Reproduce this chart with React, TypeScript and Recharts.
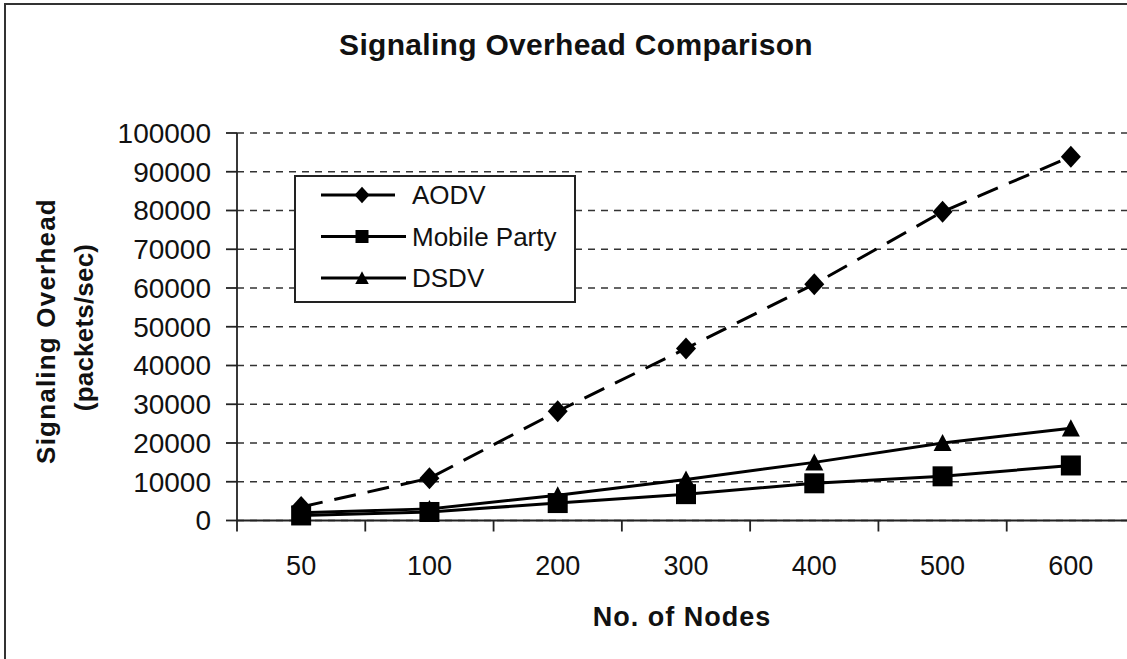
import React from 'react';
import { LineChart, Line, XAxis, YAxis, CartesianGrid, Legend } from 'recharts';

const categories = ['50', '100', '200', '300', '400', '500', '600'];
const aodv = [3500, 10900, 28200, 44400, 61000, 79700, 93900];
const mobileParty = [1300, 2200, 4500, 6800, 9600, 11400, 14200];
const dsdv = [2000, 3000, 6500, 10600, 15000, 20000, 23800];
const yTicks = [0, 10000, 20000, 30000, 40000, 50000, 60000, 70000, 80000, 90000, 100000];
const boundaryTicks = [0, 1, 2, 3, 4, 5, 6, 7];
const centerTicks = categories.map((_, i) => i + 0.5);

const data = categories.map((c, i) => ({
  pos: i + 0.5,
  label: c,
  AODV: aodv[i],
  'Mobile Party': mobileParty[i],
  DSDV: dsdv[i],
}));

const FONT = '"Liberation Sans", Arial, sans-serif';

const Diamond = (props: any) => {
  const { cx, cy, s = 1 } = props;
  if (cx == null || cy == null) return null;
  const w = 10 * s, h = 11 * s;
  return <polygon points={`${cx},${cy - h} ${cx + w},${cy} ${cx},${cy + h} ${cx - w},${cy}`} fill="#000" />;
};
const Square = (props: any) => {
  const { cx, cy, s = 1 } = props;
  if (cx == null || cy == null) return null;
  const r = 10 * s;
  return <rect x={cx - r} y={cy - r} width={2 * r} height={2 * r} fill="#000" />;
};
const Triangle = (props: any) => {
  const { cx, cy, s = 1 } = props;
  if (cx == null || cy == null) return null;
  const w = 9 * s, h = 9 * s;
  return <polygon points={`${cx},${cy - h} ${cx + w},${cy + h * 0.9} ${cx - w},${cy + h * 0.9}`} fill="#000" />;
};

const legendItems = [
  { name: 'AODV', Marker: Diamond, s: 0.75, x2: 74 },
  { name: 'Mobile Party', Marker: Square, s: 0.65, x2: 85 },
  { name: 'DSDV', Marker: Triangle, s: 0.75, x2: 85 },
];

const LegendBox = () => (
  <svg width={282} height={128} style={{ display: 'block' }}>
    <rect x={1} y={1} width={280} height={126} fill="#fff" stroke="#222" strokeWidth={2} />
    {legendItems.map((it, i) => {
      const cy = 20 + i * 41.5;
      const M = it.Marker;
      return (
        <g key={it.name}>
          <line x1={27} y1={cy} x2={27 + it.x2} y2={cy} stroke="#000" strokeWidth={3} />
          <M cx={68} cy={cy} s={it.s} />
          <text x={118} y={cy + 9} fontSize={26} fontFamily={FONT} fill="#111">{it.name}</text>
        </g>
      );
    })}
  </svg>
);

const EmptyTick = () => <g />;

export default function App() {
  return (
    <div style={{ position: 'absolute', left: 0, top: 0, width: 1127, height: 659, overflow: 'hidden', background: '#fff' }}>
      <div style={{ position: 'absolute', left: 4, top: 3, width: 1300, height: 900, border: '2px solid #333', boxSizing: 'border-box' }} />
      <div style={{ position: 'absolute', left: 0, top: 0 }}>
        <LineChart width={1140} height={659} data={data} margin={{ top: 133, right: 5, left: 0, bottom: 0 }}>
          <CartesianGrid horizontal vertical={false} stroke="#333" strokeWidth={1.3} strokeDasharray="7 6" xAxisId="b" />
          <XAxis
            xAxisId="b"
            dataKey="pos"
            type="number"
            domain={[0, 7]}
            ticks={boundaryTicks}
            tick={<EmptyTick />}
            tickFormatter={() => ''}
            tickSize={11}
            height={12}
            interval={0}
            axisLine={{ stroke: '#222', strokeWidth: 1.8 }}
            tickLine={{ stroke: '#222', strokeWidth: 1.8 }}
          />
          <XAxis
            xAxisId="lbl"
            dataKey="pos"
            type="number"
            domain={[0, 7]}
            ticks={centerTicks}
            tickFormatter={(v: number) => categories[Math.floor(v)]}
            axisLine={false}
            tickLine={false}
            tickSize={0}
            tickMargin={23.5}
            height={126.5}
            tick={{ fontSize: 27, fill: '#111', fontFamily: FONT }}
            interval={0}
          />
          <YAxis
            type="number"
            domain={[0, 100000]}
            ticks={yTicks}
            width={237}
            tickSize={11}
            tickMargin={15}
            interval={0}
            axisLine={{ stroke: '#222', strokeWidth: 1.8 }}
            tickLine={{ stroke: '#222', strokeWidth: 1.8 }}
            tick={{ fontSize: 28, fill: '#111', fontFamily: FONT }}
          />
          <Legend
            layout="vertical"
            align="center"
            verticalAlign="middle"
            wrapperStyle={{ left: 294, top: 175, width: 282, height: 128 }}
            content={() => <LegendBox />}
          />
          <Line xAxisId="b" type="linear" dataKey="DSDV" stroke="#000" strokeWidth={3} dot={<Triangle />} isAnimationActive={false} />
          <Line xAxisId="b" type="linear" dataKey="Mobile Party" stroke="#000" strokeWidth={3} dot={<Square />} isAnimationActive={false} />
          <Line xAxisId="b" type="linear" dataKey="AODV" stroke="#000" strokeWidth={3} strokeDasharray="22 12" dot={<Diamond />} isAnimationActive={false} />
        </LineChart>
      </div>
      <svg width={1127} height={659} style={{ position: 'absolute', left: 0, top: 0, pointerEvents: 'none' }}>
        <text x={576} y={55} textAnchor="middle" fontSize={30} fontWeight="bold" fontFamily={FONT} fill="#111" letterSpacing={0.3}>
          Signaling Overhead Comparison
        </text>
        <text x={682} y={626} textAnchor="middle" fontSize={27} fontWeight="bold" fontFamily={FONT} fill="#111" letterSpacing={1}>
          No. of Nodes
        </text>
        <text x={55} y={331} transform="rotate(-90, 55, 331)" textAnchor="middle" fontSize={26} fontWeight="bold" fontFamily={FONT} fill="#111" letterSpacing={1.2}>
          Signaling Overhead
        </text>
        <text x={93} y={327.5} transform="rotate(-90, 93, 327.5)" textAnchor="middle" fontSize={26} fontWeight="bold" fontFamily={FONT} fill="#111" letterSpacing={0.2}>
          (packets/sec)
        </text>
      </svg>
    </div>
  );
}
